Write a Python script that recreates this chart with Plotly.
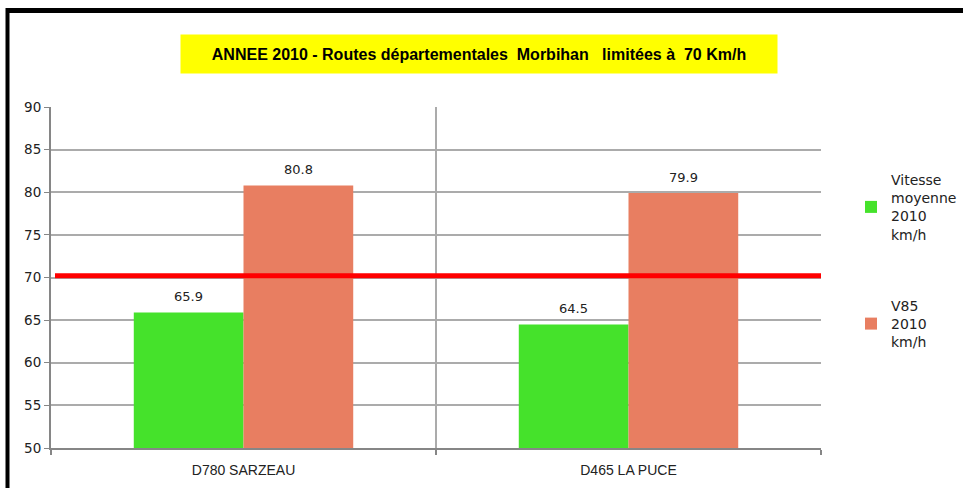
import plotly.graph_objects as go

categories = ["D780 SARZEAU", "D465 LA PUCE"]
vitesse_moyenne = [65.9, 64.5]
v85 = [80.8, 79.9]
limit_value = 70.2
series_names = ["Vitesse<br>moyenne<br>2010<br>km/h", "V85<br>2010<br>km/h"]
y_ticks = [50, 55, 60, 65, 70, 75, 80, 85, 90]
title_text = "ANNEE 2010 - Routes départementales\u00a0\u00a0Morbihan\u00a0\u00a0\u00a0limitées\u00a0à\u00a0\u00a070 Km/h"

GREEN = "#45E22B"
ORANGE = "#E87E61"
NARROW = "Liberation Sans Narrow, Arial Narrow, Arial, sans-serif"
BARGAP = 0.43

fig = go.Figure()
fig.add_trace(go.Bar(x=categories, y=[v - 50 for v in vitesse_moyenne], base=50,
                     name=series_names[0], marker=dict(color=GREEN, line=dict(width=0)),
                     legendgroup="a"))
fig.add_trace(go.Bar(x=categories, y=[v - 50 for v in v85], base=50,
                     name=series_names[1], marker=dict(color=ORANGE, line=dict(width=0)),
                     legendgroup="b"))

# data labels
half = (1 - BARGAP) / 4
for i, (a, b) in enumerate(zip(vitesse_moyenne, v85)):
    for off, val in ((-half, a), (half, b)):
        fig.add_annotation(x=i + off, y=val, text=f"{val:.1f}", showarrow=False,
                           yanchor="bottom", yshift=6,
                           font=dict(family="DejaVu Sans", size=13, color="#222222"))

# title box
fig.add_annotation(xref="paper", yref="paper", x=(479 - 51) / 770, y=(448 - 54) / 341,
                   text=f"<b>{title_text}</b>", showarrow=False, xanchor="center", yanchor="middle",
                   width=594, height=36, bgcolor="#FFFF00",
                   font=dict(family=NARROW, size=16, color="#000000"))

# limit line
fig.add_shape(type="line", xref="paper", yref="y", x0=(55 - 51) / 770, x1=1.0,
              y0=limit_value, y1=limit_value, line=dict(color="#FF0000", width=5), layer="above")

# outer frame (top and left)
fig.add_shape(type="line", xref="paper", yref="paper", x0=(7.5 - 51) / 770, x1=1.2,
              y0=(448 - 10.5) / 341, y1=(448 - 10.5) / 341, line=dict(color="#000000", width=5))
fig.add_shape(type="line", xref="paper", yref="paper", x0=(7.5 - 51) / 770, x1=(7.5 - 51) / 770,
              y0=(448 - 8) / 341, y1=-0.2, line=dict(color="#000000", width=4))

fig.update_layout(
    width=963, height=488,
    margin=dict(l=51, r=142, t=107, b=40, autoexpand=False),
    paper_bgcolor="white", plot_bgcolor="white",
    barmode="group", bargap=BARGAP, bargroupgap=0,
    showlegend=True,
    legend=dict(x=(851 - 51) / 770, y=(448 - 164) / 341, xanchor="left", yanchor="top",
                traceorder="grouped", tracegroupgap=50,
                font=dict(family="DejaVu Sans", size=14, color="#222222"),
                bgcolor="rgba(0,0,0,0)"),
    xaxis=dict(type="category", tickson="boundaries", showgrid=True, gridcolor="#ABABAB",
               gridwidth=2, showline=True, linecolor="#868686", linewidth=2,
               ticks="outside", ticklen=5, tickcolor="#868686", tickwidth=2,
               ticklabelstandoff=8,
               tickfont=dict(family=NARROW, size=14, color="#222222")),
    yaxis=dict(range=[50, 90], tickvals=y_ticks, showgrid=True, gridcolor="#ABABAB",
               gridwidth=1.5, showline=True, linecolor="#868686", linewidth=2,
               ticks="outside", ticklen=5, tickcolor="#868686", tickwidth=1,
               tickfont=dict(family="DejaVu Sans", size=13.5, color="#222222"),
               zeroline=False),
)

fig.write_html("out.html", config={"displayModeBar": False},
               post_script="document.body.style.margin='0';document.body.style.overflow='hidden';")
